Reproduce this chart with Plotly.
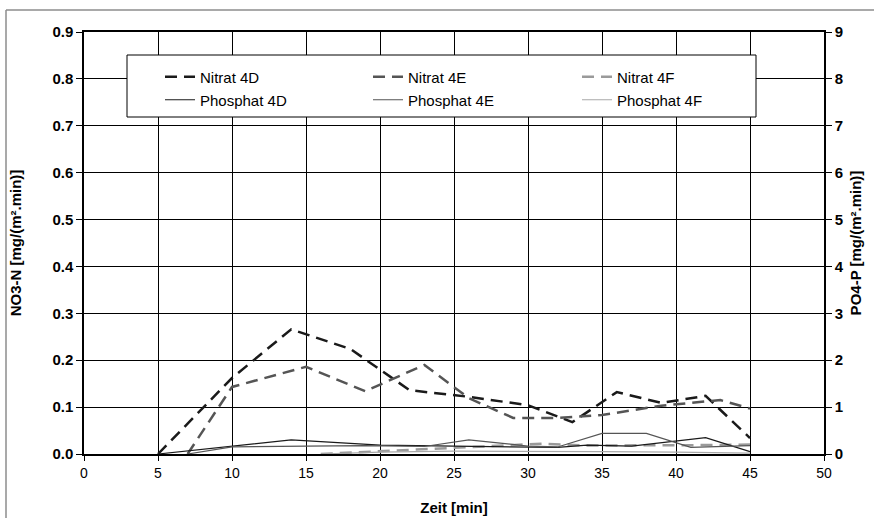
import plotly.graph_objects as go

# ---- data ----
nitrat_4d_x = [5, 10, 14, 18, 22, 26, 30, 33, 36, 39, 42, 45]
nitrat_4d_y = [0.0, 0.162, 0.266, 0.224, 0.136, 0.122, 0.104, 0.068, 0.132, 0.109, 0.124, 0.034]

nitrat_4e_x = [7, 10, 15, 19, 23, 26, 29, 32, 35, 39, 43, 45]
nitrat_4e_y = [0.0, 0.143, 0.186, 0.134, 0.19, 0.119, 0.077, 0.077, 0.083, 0.103, 0.115, 0.097]

nitrat_4f_x = [16, 20, 25, 28, 31, 34, 38, 42, 45]
nitrat_4f_y = [0.0, 0.006, 0.013, 0.018, 0.022, 0.018, 0.018, 0.019, 0.02]

phosphat_4d_x = [5, 10, 14, 20, 26, 32, 34, 37, 42, 45]
phosphat_4d_y = [0.0, 0.17, 0.30, 0.19, 0.16, 0.14, 0.19, 0.17, 0.35, 0.05]

phosphat_4e_x = [7, 10, 15, 19, 23, 26, 30, 32, 35, 38, 41, 45]
phosphat_4e_y = [0.0, 0.15, 0.17, 0.18, 0.16, 0.30, 0.17, 0.15, 0.44, 0.44, 0.14, 0.18]

phosphat_4f_x = [16, 20, 25, 30, 35, 40, 45]
phosphat_4f_y = [0.0, 0.04, 0.06, 0.06, 0.05, 0.04, 0.02]

series = [
    ("Nitrat 4D", nitrat_4d_x, nitrat_4d_y, "y", "#1a1a1a", 2.5, "12px,7px"),
    ("Nitrat 4E", nitrat_4e_x, nitrat_4e_y, "y", "#555555", 2.5, "12px,7px"),
    ("Nitrat 4F", nitrat_4f_x, nitrat_4f_y, "y", "#9a9a9a", 2.5, "12px,7px"),
    ("Phosphat 4D", phosphat_4d_x, phosphat_4d_y, "y2", "#1a1a1a", 1.2, "solid"),
    ("Phosphat 4E", phosphat_4e_x, phosphat_4e_y, "y2", "#555555", 1.2, "solid"),
    ("Phosphat 4F", phosphat_4f_x, phosphat_4f_y, "y2", "#a8a8a8", 1.2, "solid"),
]

W, H = 874, 518
ML, MR, MT, MB = 84, 50, 32, 64
PW, PH = W - ML - MR, H - MT - MB

def px2x(px):
    return (px - ML) / PW

def px2y(py):
    return (H - MB - py) / PH

fig = go.Figure()
legend_pos = [(200, 77), (408, 77), (617, 77), (200, 100), (408, 100), (617, 100)]
legend_names = ["legend", "legend2", "legend3", "legend4", "legend5", "legend6"]

for i, (name, xs, ys, yax, color, width, dash) in enumerate(series):
    fig.add_trace(go.Scatter(
        x=xs, y=ys, name=name, mode="lines", yaxis=yax,
        line=dict(color=color, width=width, dash=dash),
        legend=legend_names[i], showlegend=True,
    ))

font_family = "Liberation Sans, Arial, sans-serif"
layout = dict(
    width=W, height=H,
    margin=dict(l=ML, r=MR, t=MT, b=MB, autoexpand=False),
    paper_bgcolor="white", plot_bgcolor="white",
    font=dict(family=font_family, size=14, color="black"),
    xaxis=dict(
        range=[0, 50], dtick=5, tick0=0, automargin=False,
        showgrid=True, gridcolor="black", gridwidth=1,
        showline=True, linecolor="black", linewidth=1.5, mirror=True,
        ticks="outside", ticklen=5, tickcolor="black",
        tickfont=dict(size=14, family=font_family),
        zeroline=False,
        title=dict(text="Zeit [min]", font=dict(size=15, family=font_family, weight="bold"), standoff=23),
    ),
    yaxis=dict(
        range=[0, 0.9], dtick=0.1, tick0=0, tickformat=".1f", automargin=False,
        showgrid=True, gridcolor="black", gridwidth=1,
        showline=True, linecolor="black", linewidth=1.5,
        ticks="outside", ticklen=6, tickcolor="black",
        tickfont=dict(size=15, family=font_family, weight="bold"),
        zeroline=False,
        title=dict(text="NO3-N [mg/(m².min)]", font=dict(size=15, family=font_family, weight="bold"), standoff=27),
    ),
    yaxis2=dict(
        range=[0, 9], dtick=1, tick0=0, overlaying="y", side="right", automargin=False,
        showgrid=False, showline=True, linecolor="black", linewidth=1.5,
        ticks="outside", ticklen=6, tickcolor="black",
        tickfont=dict(size=15, family=font_family, weight="bold"),
        zeroline=False,
        title=dict(text="PO4-P [mg/(m².min)]", font=dict(size=15, family=font_family, weight="bold"), standoff=8),
    ),
    shapes=[
        # legend box
        dict(type="rect", xref="paper", yref="paper",
             x0=px2x(127), x1=px2x(756), y0=px2y(117), y1=px2y(55),
             fillcolor="white", line=dict(color="black", width=1), layer="above"),
        # outer chart frame (left and top edges)
        dict(type="line", xref="paper", yref="paper",
             x0=px2x(6), x1=px2x(6), y0=px2y(10), y1=px2y(530),
             line=dict(color="#8c8c8c", width=1.5), layer="above"),
        dict(type="line", xref="paper", yref="paper",
             x0=px2x(6), x1=px2x(880), y0=px2y(10), y1=px2y(10),
             line=dict(color="#8c8c8c", width=1.5), layer="above"),
    ],
    showlegend=True,
)

for i, ln in enumerate(legend_names):
    tx, ty = legend_pos[i]
    layout[ln] = dict(
        x=px2x(tx - 40), y=px2y(ty), xanchor="left", yanchor="middle",
        bgcolor="rgba(0,0,0,0)", borderwidth=0,
        font=dict(size=15, family=font_family),
        itemwidth=30,
    )

fig.update_layout(**layout)
fig.write_html("out.html")
